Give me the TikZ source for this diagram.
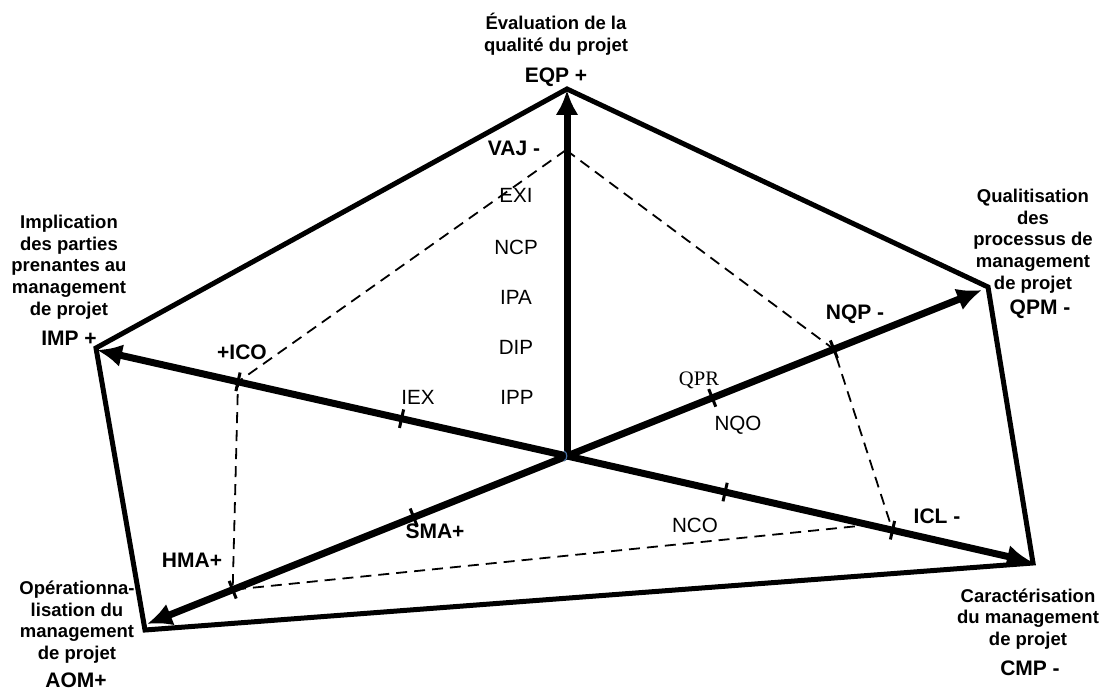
\documentclass[tikz,border=0pt]{standalone}
\usepackage{fontspec}
\setmainfont{Liberation Sans}
\newfontfamily\seriffont{Liberation Serif}
\usetikzlibrary{arrows.meta,calc}
\begin{document}
\begin{tikzpicture}[x=1pt,y=-1pt,
  axis/.style={line width=7pt,-{Latex[length=25pt,width=23pt]}},
  frame/.style={line width=5pt,line join=miter},
  dashline/.style={line width=1.8pt,dash pattern=on 11pt off 7pt},
  tickmark/.style={line width=3pt},
  title/.style={font=\fontsize{18.5}{21.7}\selectfont\bfseries,align=center,inner sep=0pt},
  code/.style={font=\fontsize{21}{25}\selectfont\bfseries,inner sep=0pt,text height=15pt,text depth=0pt},
  lab/.style={font=\fontsize{20.6}{24}\selectfont,inner sep=0pt,text height=14.8pt,text depth=0pt},
]
\useasboundingbox (0,0) rectangle (1105,690);
% centre and axis tips
\coordinate (C) at (567,456);
\coordinate (tE) at (567,90);
\coordinate (tI) at (97,350);
\coordinate (tQ) at (982,290);
\coordinate (tC) at (1032,562);
\coordinate (tA) at (147,624);
% outer frame vertices
\coordinate (vE) at (567,89);
\coordinate (vQ) at (988,287);
\coordinate (vC) at (1033,563);
\coordinate (vA) at (145,630);
\coordinate (vI) at (96,348);
\draw[frame] (vE) -- (vQ) -- (vC) -- (vA) -- (vI) -- cycle;
% axes
\foreach \t in {tE,tI,tQ,tC,tA} \draw[axis] (C) -- (\t);
% dashed profile
\coordinate (VAJ) at (566,150);
\coordinate (ICO) at ($(C)!0.70!(tI)$);
\coordinate (HMA) at ($(C)!0.796!(tA)$);
\coordinate (ICL) at ($(C)!0.70!(tC)$);
\coordinate (ICLb) at ($(C)!0.65!(tC)$);
\coordinate (NQP) at ($(C)!0.643!(tQ)$);
\draw[dashline] (VAJ) -- (ICO) -- (HMA) -- (ICLb);
\draw[dashline] (VAJ) -- (NQP) -- (ICL);
% tick marks
\coordinate (kI) at ($(C)!0.352!(tI)$);
\coordinate (kQ) at ($(C)!0.350!(tQ)$);
\coordinate (kC) at ($(C)!0.340!(tC)$);
\coordinate (kA) at ($(C)!0.365!(tA)$);
\foreach \p/\q in {kI/tI,kQ/tQ,kC/tC,kA/tA,ICO/tI,HMA/tA,NQP/tQ,ICL/tC}
  \draw[tickmark] ($(\p)!9.5pt!90:(\q)$) -- ($(\p)!9.5pt!-90:(\q)$);
% small blue mark at centre
\draw[color={rgb,255:red,70;green,110;blue,160},line width=1.2pt] ($(C)+(-3,-5)$) to[bend left=70] ($(C)+(-3,5)$);
% titles
\node[title] (nE) at (556,34) {Évaluation de la\\qualité du projet};
\node[title] (nI) at (69,267) {Implication\\des parties\\prenantes au\\management\\de projet};
\node[title] (nQ) at (1033,241) {Qualitisation\\des\\processus de\\management\\de projet};
\node[title] (nA) at (77,622) {Opérationna-\\lisation du\\management\\de projet};
\node[title] (nC) at (1028,619) {Caractérisation\\du management\\de projet};
% pole codes
\node[code] (cE) at (556,75) {EQP +};
\node[code] (cI) at (69,338) {IMP +};
\node[code] (cQ) at (1040,307) {QPM -};
\node[code] (cA) at (76,680) {AOM+};
\node[code] (cC) at (1030,668) {CMP -};
% profile codes
\node[code] (lVAJ) at (514,148) {VAJ -};
\node[code] (lICO) at (242,352) {+ICO};
\node[code] (lHMA) at (192,560) {HMA+};
\node[code] (lSMA) at (435,531) {SMA+};
\node[code] (lNQP) at (855,312) {NQP -};
\node[code] (lICL) at (937,516) {ICL -};
% plain labels
\node[lab] (lEXI) at (516,195) {EXI};
\node[lab] (lNCP) at (516,247) {NCP};
\node[lab] (lIPA) at (516,297) {IPA};
\node[lab] (lDIP) at (516,347) {DIP};
\node[lab] (lIPP) at (517,397) {IPP};
\node[lab] (lIEX) at (418,397) {IEX};
\node[lab] (lNQO) at (738,423) {NQO};
\node[lab] (lNCO) at (695,525) {NCO};
\node[lab,font=\fontsize{20.6}{24}\selectfont\seriffont] (lQPR) at (699,378) {QPR};
\end{tikzpicture}
\end{document}
